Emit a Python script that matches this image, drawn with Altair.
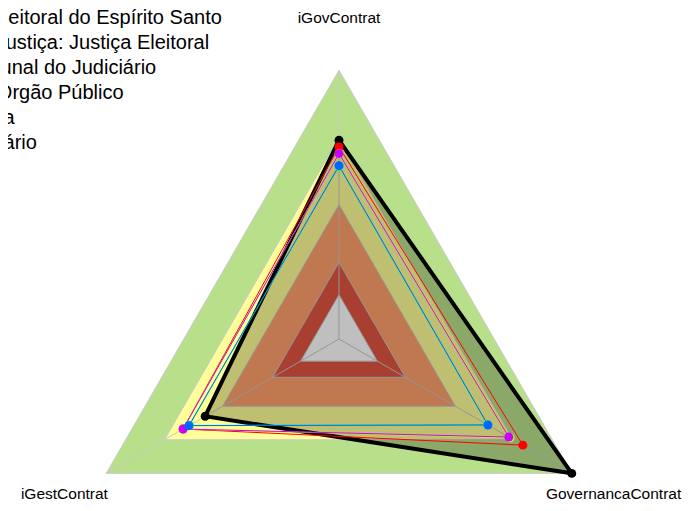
import altair as alt
import pandas as pd

# ---------------- data ----------------
axes = ["iGovContrat", "GovernancaContrat", "iGestContrat"]
axis_angles = [0, 120, 240]

band_levels = [1.0, 0.75, 0.5, 0.285, 0.165]
band_colors = ["#b8e08b", "#ffff99", "#ffa06b", "#e05540", "#ffffff"]

series = [
    "Tribunal Regional Eleitoral do Espírito Santo",
    "Classificação pela Justiça: Justiça Eleitoral",
    "Tipo de Órgão: Tribunal do Judiciário",
    "Natureza Jurídica: Orgão Público",
    "Administração Direta",
    "Ramo: Poder Judiciário",
]
series_colors = ["#000000", "#ff0000", "#ccff00", "#00ff66", "#cc00ff", "#0066ff"]
draw_order = [0, 1, 2, 3, 4, 5]

val_igov = [0.74, 0.715, 0.69, 0.643, 0.69, 0.645]
val_governanca = [1.0, 0.79, 0.735, 0.638, 0.73, 0.64]
val_igest = [0.575, 0.67, 0.67, 0.643, 0.67, 0.645]

label_radius = 1.18

# ---------------- tables ----------------
values = list(zip(val_igov, val_governanca, val_igest))

band_rows = []
for b, lvl in enumerate(band_levels):
    for k in range(4):
        band_rows.append({"band": b, "r": lvl, "angle": axis_angles[k % 3], "k": k})
bands_df = pd.DataFrame(band_rows)

ser_rows = []
for s, name in enumerate(series):
    for k in range(4):
        ser_rows.append({"series": name, "sid": s, "r": values[s][k % 3],
                         "angle": axis_angles[k % 3], "k": k})
ser_df = pd.DataFrame(ser_rows)
pts_df = ser_df[ser_df["k"] < 3].copy()
pts_df["ord"] = pts_df["sid"].map({s: i for i, s in enumerate(draw_order)})

spoke_df = pd.DataFrame({"axis": axes, "angle": axis_angles, "r": [1.0] * 3})
label_df = pd.DataFrame({"axis": axes, "angle": axis_angles, "r": [label_radius] * 3})

# ---------------- scales ----------------
R_PX = 268.7
W, H = 675, 495
CX, CY = 331, 331
xs = alt.Scale(domain=[-CX / R_PX, (W - CX) / R_PX], nice=False, zero=False)
ys = alt.Scale(domain=[-(H - CY) / R_PX, CY / R_PX], nice=False, zero=False)

polar = dict(
    x="datum.r * sin(datum.angle * PI / 180)",
    y="datum.r * cos(datum.angle * PI / 180)",
)

def X(f="x"):
    return alt.X(f"{f}:Q", scale=xs, axis=None)

def Y(f="y"):
    return alt.Y(f"{f}:Q", scale=ys, axis=None)

layers = []
for b, col in enumerate(band_colors):
    layers.append(
        alt.Chart(bands_df[bands_df["band"] == b])
        .transform_calculate(**polar)
        .mark_line(fill=col, stroke="#c8c8c8", strokeWidth=1)
        .encode(x=X(), y=Y(), order="k:Q")
    )

layers.append(
    alt.Chart(spoke_df)
    .transform_calculate(x0="0", y0="0", **polar)
    .mark_rule(color="#c8c8c8", strokeWidth=1)
    .encode(x=X("x0"), y=Y("y0"), x2="x:Q", y2="y:Q")
)

for s in draw_order:
    sub = ser_df[ser_df["sid"] == s]
    if s == 0:
        mk = alt.Chart(sub).transform_calculate(**polar).mark_line(
            fill="#000000", fillOpacity=0.25, stroke=series_colors[s], strokeWidth=4)
    else:
        mk = alt.Chart(sub).transform_calculate(**polar).mark_line(
            stroke=series_colors[s], strokeWidth=1)
    layers.append(mk.encode(x=X(), y=Y(), order="k:Q"))

layers.append(
    alt.Chart(pts_df)
    .transform_calculate(**polar)
    .mark_point(filled=True, size=80, opacity=1)
    .encode(
        x=X(), y=Y(),
        color=alt.Color("series:N",
                        scale=alt.Scale(domain=series, range=series_colors),
                        sort=series,
                        legend=alt.Legend(orient="none", legendX=-207, legendY=0,
                                          title=None, labelFontSize=20,
                                          labelFont="Liberation Sans", labelLimit=0,
                                          labelColor="#000000", padding=0,
                                          rowPadding=5, symbolSize=100,
                                          labelOffset=8)),
        order=alt.Order("ord:Q"),
    )
)

layers.append(
    alt.Chart(label_df)
    .transform_calculate(**polar)
    .mark_text(fontSize=15.5, font="Liberation Sans", color="#000000",
               align="center", baseline="middle", dy=-4)
    .encode(x=X(), y=Y(), text="axis:N")
)

chart = (
    alt.layer(*layers)
    .properties(width=W, height=H, autosize=alt.AutoSizeParams(type="none"),
                padding=0, background="white")
    .configure_view(stroke=None)
)

chart.save("out.html", embed_options={"renderer": "svg", "actions": False})
